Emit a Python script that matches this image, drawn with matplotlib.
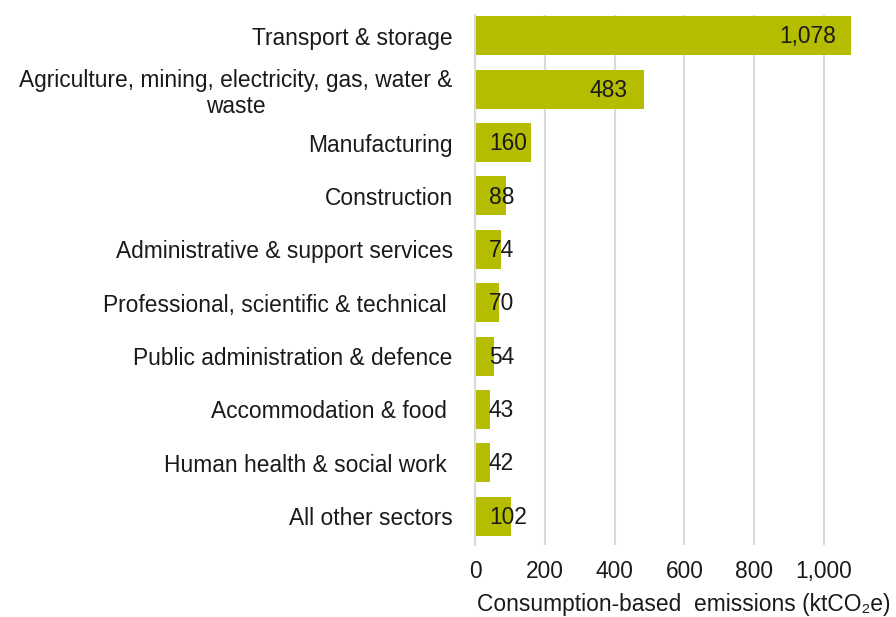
import matplotlib
matplotlib.use("Agg")
import matplotlib.pyplot as plt

categories = [
    "Transport & storage",
    "Agriculture, mining, electricity, gas, water &\nwaste",
    "Manufacturing",
    "Construction",
    "Administrative & support services",
    "Professional, scientific & technical ",
    "Public administration & defence",
    "Accommodation & food ",
    "Human health & social work ",
    "All other sectors",
]
values = [1078, 483, 160, 88, 74, 70, 54, 43, 42, 102]
xticks = [0, 200, 400, 600, 800, 1000]
xtick_labels = ["0", "200", "400", "600", "800", "1,000"]
xlabel = "Consumption-based  emissions (ktCO\u2082e)"

plt.rcParams['font.family'] = ['Liberation Sans', 'DejaVu Sans']
FS = 16.4
BAR = '#B5BD00'

fig = plt.figure(figsize=(8.96, 6.17), dpi=100)
ax = fig.add_axes([475/896, 1-545/617, (866-475)/896, (545-15)/617])

y = list(range(len(categories)))
ax.barh(y, values, height=0.73, color=BAR, zorder=3)
ax.set_ylim(len(categories) - 0.46, -0.39)
ax.set_xlim(0, 1120)

ax.set_yticks(y)
ax.set_yticklabels(categories, fontsize=FS, color='#1a1a1a', multialignment='center')
ax.set_xticks(xticks)
ax.set_xticklabels(xtick_labels, fontsize=FS, color='#1a1a1a')
ax.tick_params(axis='y', length=0, pad=16)
ax.tick_params(axis='x', length=0, pad=11)

for s in ['top', 'right', 'bottom']:
    ax.spines[s].set_visible(False)
ax.spines['left'].set_color('#d9d9d9')
ax.spines['left'].set_linewidth(1.5)
ax.spines['left'].set_zorder(4)
ax.xaxis.grid(True, color='#d9d9d9', linewidth=1.5, zorder=0)
ax.set_axisbelow(True)

for yi, v in zip(y, values):
    if v > 300:
        ax.text(v - 45, yi + 0.02, f"{v:,}", ha='right', va='center', fontsize=FS, color='#1a1a1a', zorder=5)
    else:
        ax.text(40, yi + 0.02, f"{v:,}", ha='left', va='center', fontsize=FS, color='#1a1a1a', zorder=5)

fig.text(890/896, 1-605/617, xlabel, ha='right', va='center', fontsize=FS, color='#1a1a1a')

fig.savefig("out.png", dpi=100)
